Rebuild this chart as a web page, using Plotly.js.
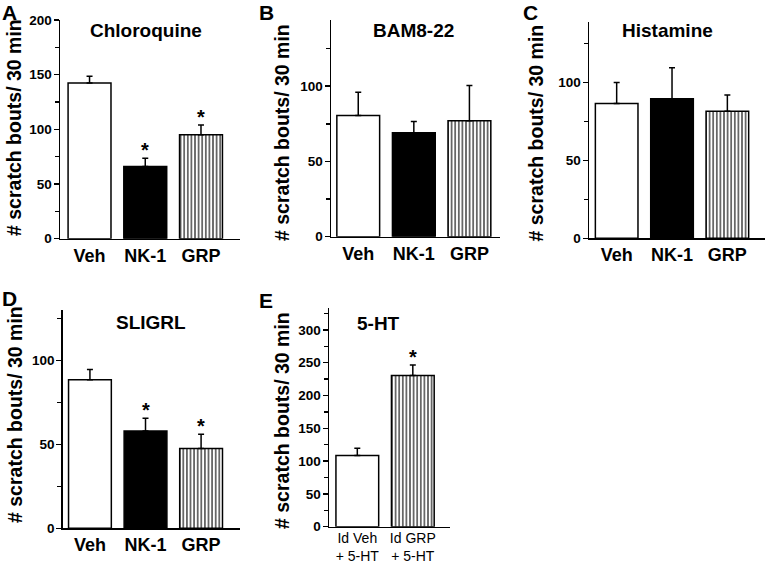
<!DOCTYPE html>
<html>
<head>
<meta charset="utf-8">
<script src="https://cdn.plot.ly/plotly-3.0.1.min.js"></script>
<style>html,body{margin:0;padding:0;background:#fff;}#chart{width:770px;height:566px;}</style>
</head>
<body>
<div id="chart"></div>
<script>
// ---- data ----
const groups = ['Veh', 'NK-1', 'GRP'];
const chloroquine = [142.5, 66, 95];
const chloroquineErr = [6, 7.5, 9];
const chloroquineSig = [false, true, true];
const bam822 = [80.5, 69, 77];
const bam822Err = [15.5, 7.5, 23.5];
const bam822Sig = [false, false, false];
const histamine = [86.5, 89.5, 81.5];
const histamineErr = [13.5, 20, 10.5];
const histamineSig = [false, false, false];
const sligrl = [88.5, 58, 47.5];
const sligrlErr = [6, 7.5, 8.5];
const sligrlSig = [false, true, true];
const htGroups = ['Id Veh<br>+ 5-HT', 'Id GRP<br>+ 5-HT'];
const ht = [108.5, 230.5];
const htErr = [11, 16];
const htSig = [false, true];
const yTitle = '# scratch bouts/ 30 min';

// ---- styling ----
const W = 770, H = 566;
const FAM = 'Liberation Sans, Arial, sans-serif';
const fillFor = {'Veh': 'white', 'NK-1': 'black', 'GRP': 'white',
                 'Id Veh<br>+ 5-HT': 'white', 'Id GRP<br>+ 5-HT': 'white'};
const hatchFor = {'Veh': '', 'NK-1': '', 'GRP': '|',
                  'Id Veh<br>+ 5-HT': '', 'Id GRP<br>+ 5-HT': '|'};

const panels = [
  {cats: groups, vals: chloroquine, err: chloroquineErr, sig: chloroquineSig, title: 'Chloroquine', letter: 'A',
   box: [60, 240, 20, 238.7], ymax: 200, xr: [-0.53, 2.70], tpos: [146, 31], lpos: [9, 12], ytpos: [14, 128]},
  {cats: groups, vals: bam822, err: bam822Err, sig: bam822Sig, title: 'BAM8-22', letter: 'B',
   box: [331, 500, 20, 236.7], ymax: 144, xr: [-0.49, 2.55], tpos: [413.5, 31], lpos: [266, 12], ytpos: [282, 133]},
  {cats: groups, vals: histamine, err: histamineErr, sig: histamineSig, title: 'Histamine', letter: 'C',
   box: [589, 765, 21.7, 238.3], ymax: 139, xr: [-0.50, 2.68], tpos: [667, 31], lpos: [530, 12], ytpos: [535, 133.5]},
  {cats: groups, vals: sligrl, err: sligrlErr, sig: sligrlSig, title: 'SLIGRL', letter: 'D',
   box: [62.7, 240, 310, 528.3], ymax: 130, xr: [-0.49, 2.70], tpos: [151, 322.5], lpos: [9, 298], ytpos: [15, 415]},
  {cats: htGroups, vals: ht, err: htErr, sig: htSig, title: '5-HT', letter: 'E',
   box: [329, 450, 308.3, 526.7], ymax: 333, xr: [-0.51, 1.67], tpos: [378, 323.5], lpos: [266, 300], ytpos: [282, 421], small: true}
];

const data = [];
const layout = {
  width: W, height: H,
  margin: {l: 0, r: 0, t: 0, b: 0},
  paper_bgcolor: 'white', plot_bgcolor: 'white',
  showlegend: false,
  barmode: 'overlay',
  font: {family: FAM, color: 'black'},
  annotations: []
};

panels.forEach((p, i) => {
  const n = i === 0 ? '' : String(i + 1);
  const xa = 'x' + n, ya = 'y' + n;
  p.cats.forEach((c, k) => {
    const marker = {color: fillFor[c], line: {color: 'black', width: 1.5}};
    if (hatchFor[c]) {
      marker.pattern = {shape: hatchFor[c], fgcolor: 'black', bgcolor: 'white', fgopacity: 1,
                        size: 3.6, solidity: 0.3, fillmode: 'replace'};
    }
    data.push({
      type: 'bar', x: [c], y: [p.vals[k]], xaxis: xa, yaxis: ya,
      width: 0.77, marker: marker,
      error_y: {type: 'data', symmetric: false, array: [p.err[k]], arrayminus: [0],
                color: 'black', thickness: 1.5, width: 3},
      hoverinfo: 'skip'
    });
    if (p.sig[k]) {
      layout.annotations.push({
        xref: xa, yref: ya, x: c, y: p.vals[k] + p.err[k], yanchor: 'middle', yshift: 8,
        showarrow: false, text: '*', font: {family: FAM, size: 20, weight: 'bold', color: 'black'}
      });
    }
  });
  const [l, r, t, b] = p.box;
  layout['xaxis' + n] = {
    domain: [l / W, r / W], anchor: ya, type: 'category', range: p.xr,
    showline: true, linecolor: 'black', linewidth: 1.5, ticks: '', showgrid: false, zeroline: false,
    ticklabelstandoff: p.small ? -2 : 0,
    tickfont: p.small ? {family: FAM, size: 14, color: 'black'} : {family: FAM, size: 18, weight: 'bold', color: 'black'},
    fixedrange: true
  };
  layout['yaxis' + n] = {
    domain: [(H - b) / H, (H - t) / H], anchor: xa, range: [0, p.ymax],
    showline: true, linecolor: 'black', linewidth: 1.5, showgrid: false, zeroline: false,
    ticks: 'outside', ticklen: 5, tickwidth: 1.5, tickcolor: 'black', dtick: 50, tick0: 0,
    ticklabelstandoff: -1,
    minor: {dtick: 25, ticks: 'outside', ticklen: 4, tickwidth: 1.5, tickcolor: 'black', showgrid: false},
    tickfont: {family: FAM, size: 13.5, weight: 'bold', color: 'black'},
    fixedrange: true
  };
  layout.annotations.push({
    xref: 'paper', yref: 'paper', x: p.tpos[0] / W, y: (H - p.tpos[1]) / H,
    xanchor: 'center', yanchor: 'middle', showarrow: false, text: p.title,
    font: {family: FAM, size: 19, weight: 'bold', color: 'black'}
  });
  layout.annotations.push({
    xref: 'paper', yref: 'paper', x: p.lpos[0] / W, y: (H - p.lpos[1]) / H,
    xanchor: 'center', yanchor: 'middle', showarrow: false, text: p.letter,
    font: {family: FAM, size: 21, weight: 'bold', color: 'black'}
  });
  layout.annotations.push({
    xref: 'paper', yref: 'paper', x: p.ytpos[0] / W, y: (H - p.ytpos[1]) / H,
    xanchor: 'center', yanchor: 'middle', showarrow: false, text: yTitle, textangle: -90,
    font: {family: FAM, size: 19.5, weight: 'bold', color: 'black'}
  });
});

Plotly.newPlot('chart', data, layout, {staticPlot: true});
</script>
</body>
</html>
